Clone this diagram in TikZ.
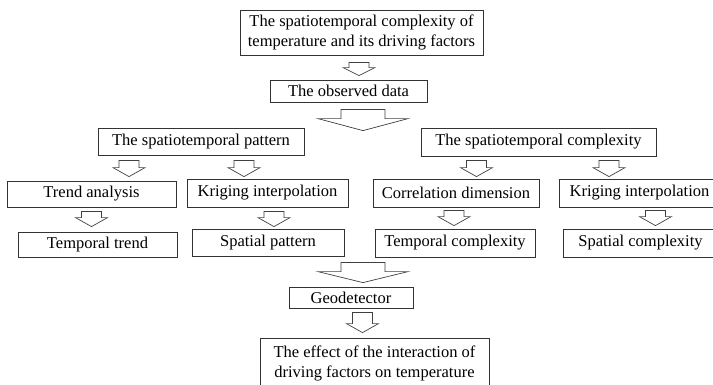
\documentclass[tikz,border=0pt]{standalone}
\usepackage{fontspec}
\setmainfont{Liberation Serif}
\usetikzlibrary{calc}

\tikzset{
  box/.style={draw=black!80, line width=0.8pt, inner sep=0pt, align=center,
              font=\fontsize{16.5}{20}\selectfont},
  blk/.style={draw=black!75, line width=0.7pt, fill=white, line join=miter},
}

% Hollow block arrow between two boxes:
% #1 x position, #2 source node, #3 gap below source, #4 target node,
% #5 gap above target (tip), #6 shaft half-width, #7 head half-width, #8 head length
\newcommand\blockarrow[8]{%
  \draw[blk] let \p1=(#2.south), \p2=(#4.north) in
    ({#1pt-#6pt},{\y1-(#3pt)}) -- ({#1pt+#6pt},{\y1-(#3pt)})
    -- ({#1pt+#6pt},{\y2+(#5pt)+#8pt}) -- ({#1pt+#7pt},{\y2+(#5pt)+#8pt})
    -- ({#1pt},{\y2+(#5pt)})
    -- ({#1pt-#7pt},{\y2+(#5pt)+#8pt}) -- ({#1pt-#6pt},{\y2+(#5pt)+#8pt})
    -- cycle;}

\begin{document}
\begin{tikzpicture}[x=1pt, y=-1pt]
\useasboundingbox (0,0) rectangle (713,384);
\clip (0,0) rectangle (713,384);

% boxes
\node[box, minimum width=243pt, minimum height=45pt] (top) at (361.5,32.5)
  {The spatiotemporal complexity of\\temperature and its driving factors};
\node[box, minimum width=157pt, minimum height=22pt] (obs) at (348.5,91) {The observed data};

\node[box, minimum width=206pt, minimum height=27pt] (pat) at (201,141.5) {The spatiotemporal pattern};
\node[box, minimum width=235pt, minimum height=28pt] (cpx) at (538.5,142) {The spatiotemporal complexity};

\node[box, minimum width=169pt, minimum height=26pt] (trend) at (91.5,194) {Trend analysis};
\node[box, minimum width=161pt, minimum height=28pt] (krig1) at (267.5,193) {Kriging interpolation};
\node[box, minimum width=166pt, minimum height=28pt] (corr) at (456,193) {Correlation dimension};
\node[box, minimum width=161pt, minimum height=28pt] (krig2) at (639.5,193) {Kriging interpolation};

\node[box, minimum width=159pt, minimum height=25pt] (ttrend) at (97.5,244.5) {Temporal trend};
\node[box, minimum width=152pt, minimum height=27pt] (spat) at (268,242.5) {Spatial pattern};
\node[box, minimum width=160pt, minimum height=28pt] (tcpx) at (455,243) {Temporal complexity};
\node[box, minimum width=155pt, minimum height=28pt] (scpx) at (640.5,243) {Spatial complexity};

\node[box, minimum width=124pt, minimum height=21pt] (geo) at (351,297.5) {Geodetector};
\node[box, minimum width=229pt, minimum height=50pt] (eff) at (374.5,363)
  {The effect of the interaction of\\driving factors on temperature};

% small arrows
\blockarrow{359}{top}{7}{obs}{4}{10}{16}{8}
\blockarrow{129}{pat}{5}{trend}{4}{10}{16}{9}
\blockarrow{244}{pat}{5}{krig1}{2}{10}{16}{9}
\blockarrow{476.5}{cpx}{4}{corr}{2}{10}{16}{9}
\blockarrow{609}{cpx}{4}{krig2}{2}{10}{16}{9}
\blockarrow{91.5}{trend}{4}{ttrend}{5}{10}{16}{9}
\blockarrow{274}{krig1}{4}{spat}{2}{10}{16}{9}
\blockarrow{454}{corr}{3}{tcpx}{3}{10}{16}{9}
\blockarrow{655.5}{krig2}{3}{scpx}{3}{10}{16}{9}
\blockarrow{362.5}{geo}{4}{eff}{5}{10}{16}{9}

% large arrows
\blockarrow{363}{obs}{7}{pat}{-3}{22}{45}{12}
\blockarrow{363}{spat}{6}{geo}{4}{22}{45}{11}
\end{tikzpicture}
\end{document}
